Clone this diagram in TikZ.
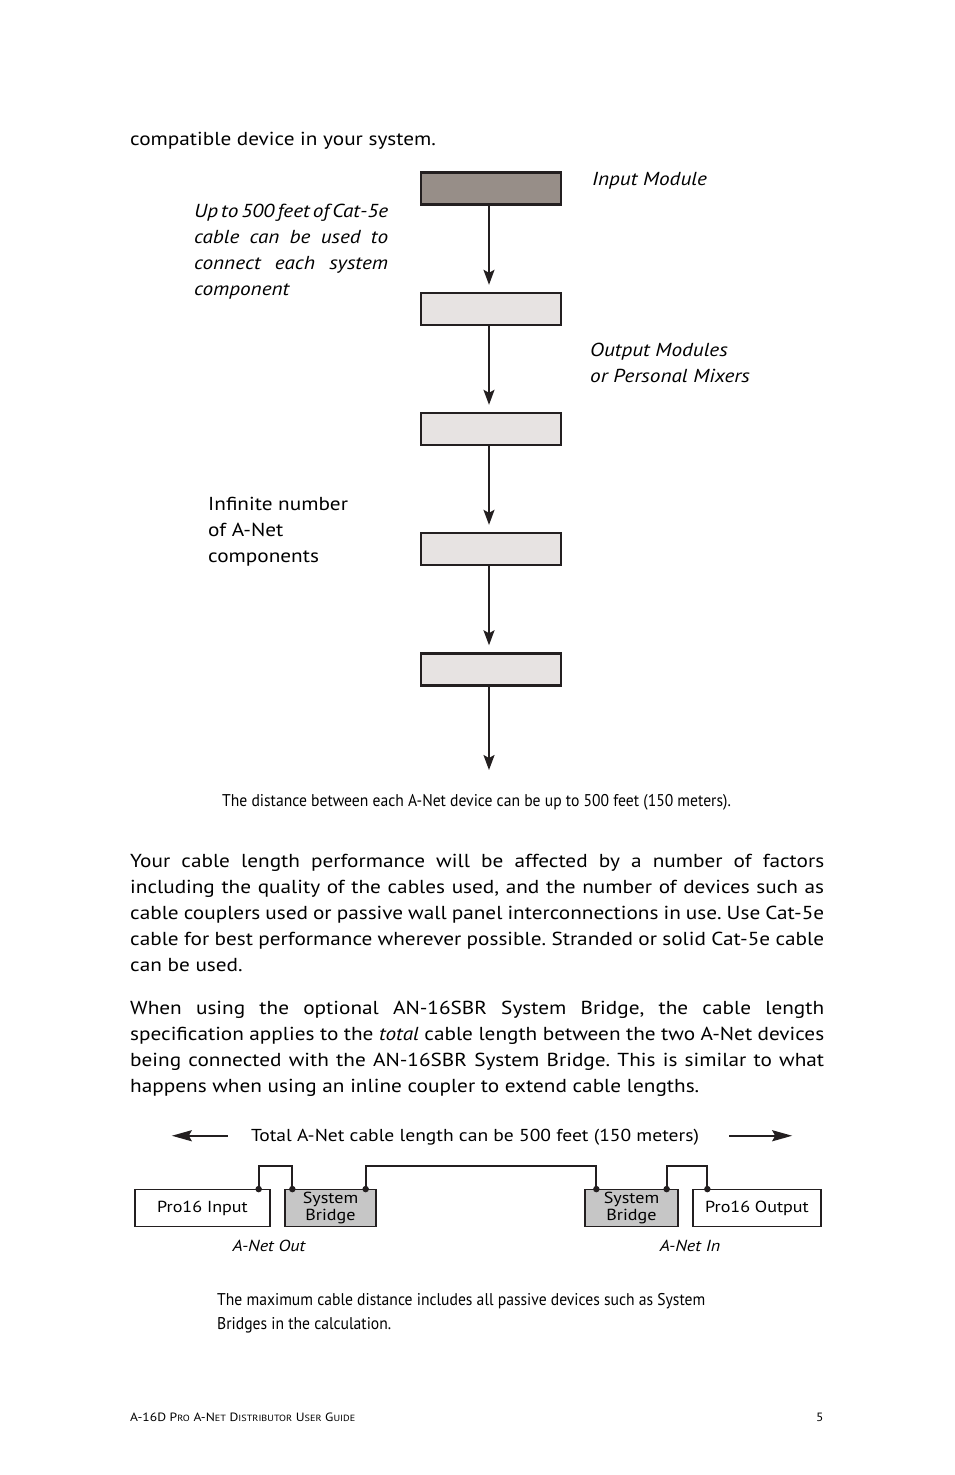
\documentclass[tikz,border=0pt]{standalone}
\usepackage{fontspec}
\setmainfont{PT Sans}[FakeStretch=1.13]
\newfontfamily\condfont[FakeStretch=0.92]{PT Sans}
\usetikzlibrary{arrows.meta}
\definecolor{ink}{HTML}{231F20}
\definecolor{topfill}{HTML}{978E88}
\definecolor{modfill}{HTML}{E7E3E2}
\definecolor{sbfill}{HTML}{C6C6C6}
\frenchspacing
\newcommand\jline[2]{\hbox to #1pt{#2}}
\newcommand\fsc[1]{{\fontsize{9}{10}\selectfont #1}}
\begin{document}
\begin{tikzpicture}[x=1pt,y=-1pt,
  mod/.style={draw=ink, line width=2.4pt, minimum width=139.5pt, minimum height=32pt, inner sep=0pt, fill=modfill},
  flow/.style={draw=ink, line width=2pt, -{Stealth[length=15pt,width=11pt,inset=3pt]}, shorten >=7pt},
  body/.style={anchor=base west, inner sep=0pt, font=\fontsize{18.8}{26}\selectfont},
  ital/.style={body, font=\fontsize{18.8}{26}\selectfont\itshape},
  captxt/.style={inner sep=0pt, font=\fontsize{17}{24}\selectfont\condfont},
  dev/.style={draw=ink, line width=1.3pt, inner sep=0pt, minimum height=36.5pt, align=center, font=\fontsize{16}{17}\selectfont},
  wire/.style={draw=ink, line width=2pt},
  dot/.style={circle, fill=ink, inner sep=0pt, minimum size=6.5pt},
  harr/.style={draw=ink, line width=2pt, -{Stealth[length=20pt,width=11pt,inset=3pt]}}
]
\useasboundingbox[fill=white] (0,0) rectangle (954,1475);

% intro line
\node[body] (intro) at (130,145) {compatible device in your system.};

% flow chain
\node[mod, fill=topfill] (m1) at (491,188.5) {};
\node[mod] (m2) at (491,309) {};
\node[mod] (m3) at (491,429) {};
\node[mod] (m4) at (491,549) {};
\node[mod] (m5) at (491,669.5) {};
\coordinate (end) at (489,777);
\draw[flow] (m1.south -| 489,0) -- (m2.north -| 489,0);
\draw[flow] (m2.south -| 489,0) -- (m3.north -| 489,0);
\draw[flow] (m3.south -| 489,0) -- (m4.north -| 489,0);
\draw[flow] (m4.south -| 489,0) -- (m5.north -| 489,0);
\draw[flow] (m5.south -| 489,0) -- (end);

\node[ital] (inlab) at (592,185) {Input Module};
\node[ital] (cablab) at (194,217) {\vtop{%
  \jline{194}{\spaceskip=1.5pt plus 1pt minus 0.5pt Up to 500 feet of Cat-5e}%
  \jline{194}{cable can be used to}%
  \jline{194}{connect each system}%
  \hbox{component}}};
\node[ital] (outlab) at (590,356) {\vtop{\hbox{Output Modules}\hbox{or Personal Mixers}}};
\node[body] (inflab) at (208,510) {\vtop{\hbox{Infinite number}\hbox{of A-Net}\hbox{components}}};

\node[captxt, anchor=base] (cap1) at (476.5,806) {The distance between each A-Net device can be up to 500 feet (150 meters).};

% paragraphs
\node[body] (para1) at (130,867) {\vtop{%
  \jline{694}{Your cable length performance will be affected by a number of factors}%
  \jline{694}{including the quality of the cables used, and the number of devices such as}%
  \jline{694}{cable couplers used or passive wall panel interconnections in use. Use Cat-5e}%
  \jline{694}{cable for best performance wherever possible. Stranded or solid Cat-5e cable}%
  \hbox{can be used.}}};
\node[body] (para2) at (130,1014) {\vtop{%
  \jline{694}{When using the optional AN-16SBR System Bridge, the cable length}%
  \jline{694}{specification applies to the \textit{total} cable length between the two A-Net devices}%
  \jline{694}{being connected with the AN-16SBR System Bridge. This is similar to what}%
  \hbox{happens when using an inline coupler to extend cable lengths.}}};

% bottom diagram
\node[inner sep=0pt, anchor=base, font=\fontsize{17.3}{20}\selectfont] (total) at (475,1141) {Total A-Net cable length can be 500 feet (150 meters)};
\draw[harr] (total.west) ++(-23,-1) coordinate (la) -- ++(-56,0);
\draw[harr] (total.east) ++(30,-1) coordinate (ra) -- ++(63,0);

\node[dev, minimum width=135pt] (pin) at (202.5,1208) {Pro16 Input};
\node[dev, minimum width=91pt, fill=sbfill] (sb1) at (330.5,1208) {System\\Bridge};
\node[dev, minimum width=93pt, fill=sbfill] (sb2) at (631.5,1208) {System\\Bridge};
\node[dev, minimum width=128pt] (pout) at (757,1208) {Pro16 Output};

\path (pin.north east) ++(-12,0) coordinate (c1);
\path (sb1.north west) ++(8,0) coordinate (c2);
\path (sb1.north east) ++(-11,0) coordinate (c3);
\path (sb2.north west) ++(12,0) coordinate (c4);
\path (sb2.north east) ++(-12,0) coordinate (c5);
\path (pout.north west) ++(15,0) coordinate (c6);

\draw[wire] (c1) -- ++(0,-23) -| (c2);
\draw[wire] (c3) -- ++(0,-23) -| (c4);
\draw[wire] (c5) -- ++(0,-23) -| (c6);
\foreach \c in {c1,c2,c3,c4,c5,c6} \node[dot] at (\c) {};

\node[inner sep=0pt, anchor=base, font=\fontsize{16}{18}\selectfont\itshape] (aout) at (269,1251) {A-Net Out};
\node[inner sep=0pt, anchor=base, font=\fontsize{16}{18}\selectfont\itshape] (ain) at (690,1251) {A-Net In};

\node[captxt, anchor=base west] (cap2) at (217,1305) {\vtop{\hbox{The maximum cable distance includes all passive devices such as System}\hbox{Bridges in the calculation.}}};

% footer
\node[inner sep=0pt, anchor=base west, font=\fontsize{12}{14}\selectfont] (foot) at (130,1421) {A-16D P\fsc{RO} A-N\fsc{ET} D\fsc{ISTRIBUTOR} U\fsc{SER} G\fsc{UIDE}};
\node[inner sep=0pt, anchor=base west, font=\fontsize{12}{14}\selectfont] (pg) at (816,1421) {5};
\end{tikzpicture}
\end{document}
